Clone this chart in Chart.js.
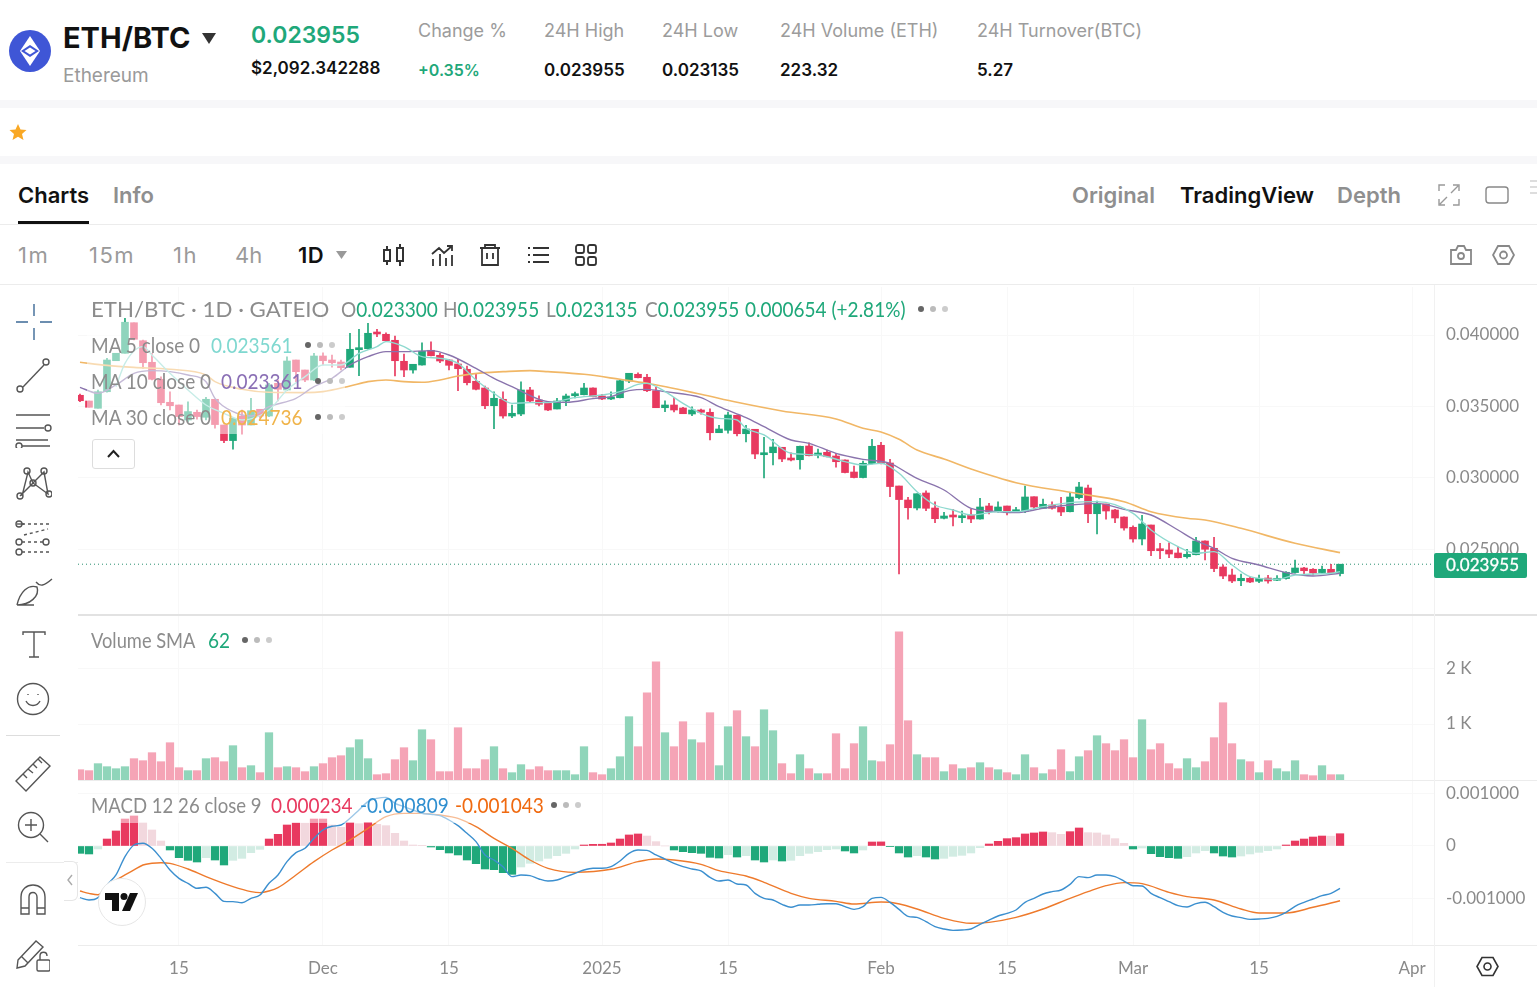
<!DOCTYPE html>
<html>
<head>
<meta charset="utf-8">
<title>ETH/BTC</title>
<script src="https://cdn.jsdelivr.net/npm/chart.js@4/dist/chart.umd.min.js"></script>
<style>
html, body { margin: 0; padding: 0; background: #fff; }
#page { position: relative; width: 1537px; height: 987px; overflow: hidden; font-family: Inter, sans-serif; }
canvas { position: absolute; left: 78px; }
.t { position: absolute; white-space: nowrap; line-height: 1; transform: translateY(-50%); }
.gray { color: #9a9a9a; }
.head { font-size: 18px; color: #9c9c9c; }
.val { font-size: 17px; font-weight: 600; color: #111; }
.tab { font-size: 22px; font-weight: 600; color: #8f8f8f; }
.tf { font-size: 22px; letter-spacing: 1.5px; color: #9a9a9a; }
.lg { font-family: Lato, sans-serif; font-size: 21px; color: #8c8c8c; transform-origin: left center; transform: translateY(calc(-50% - 1px)) scaleX(.905); }
.band { position: absolute; left: 0; width: 1537px; background: #f7f7f9; }
.rule { position: absolute; background: #ececec; }
.veil { position: absolute; background: rgba(255,255,255,.5); }
.dots { position: absolute; width: 30px; height: 6px; transform: translateY(-50%); }
.dots i { position: absolute; top: 0; width: 6px; height: 6px; border-radius: 50%; }
.dots i:nth-child(1) { left: 0; background: #666; }
.dots i:nth-child(2) { left: 12px; background: #bbb; }
.dots i:nth-child(3) { left: 24px; background: #ccc; }
svg { position: absolute; fill: none; stroke: #555; stroke-width: 1.4; }
</style>
</head>
<body>
<div id="page">
  <canvas id="priceChart" width="1459" height="328" style="top:287px"></canvas>
  <canvas id="volumeChart" width="1459" height="164" style="top:616px"></canvas>
  <canvas id="macdChart" width="1459" height="206" style="top:781px"></canvas>

  <div class="veil" style="left:87px;top:322px;width:258px;height:112px"></div>
  <div class="veil" style="left:87px;top:795px;width:458px;height:28px"></div>

  <!-- header -->
  <svg style="left:9px;top:30px;stroke:none" width="42" height="42" viewBox="0 0 42 42">
    <circle cx="21" cy="21" r="21" fill="#3f56d6"/>
    <path d="M21 6 L31 21 L21 36 L11 21 Z" fill="#fff"/>
    <path d="M21 15 L30 21 L21 27 L12 21 Z" fill="#3f56d6"/>
    <path d="M21 17.500 L26.500 21 L21 24.500 L15.500 21 Z" fill="#fff"/>
  </svg>
  <div class="t" style="left:63px;top:37px;font-size:29px;font-weight:700;color:#111">ETH/BTC</div>
  <svg style="left:202px;top:33px;stroke:none" width="14" height="11"><path d="M0 0 H14 L7 11 Z" fill="#333"/></svg>
  <div class="t gray" style="left:63px;top:75px;font-size:19px">Ethereum</div>
  <div class="t" style="left:251px;top:35px;font-size:23px;font-weight:600;color:#1fa87a">0.023955</div>
  <div class="t" style="left:251px;top:68px;font-size:17px;font-weight:600;color:#111">$2,092.342288</div>
  <div class="t head" style="left:418px;top:31px">Change %</div>
  <div class="t" style="left:418px;top:70px;font-size:16px;font-weight:600;color:#1fa87a">+0.35%</div>
  <div class="t head" style="left:544px;top:31px">24H High</div>
  <div class="t val" style="left:544px;top:70px">0.023955</div>
  <div class="t head" style="left:662px;top:31px">24H Low</div>
  <div class="t val" style="left:662px;top:70px">0.023135</div>
  <div class="t head" style="left:780px;top:31px">24H Volume (ETH)</div>
  <div class="t val" style="left:780px;top:70px">223.32</div>
  <div class="t head" style="left:977px;top:31px">24H Turnover(BTC)</div>
  <div class="t val" style="left:977px;top:70px">5.27</div>

  <div class="band" style="top:100px;height:8px"></div>
  <svg style="left:9px;top:123px;stroke:none" width="18" height="18" viewBox="0 0 18 18"><path d="M9 1 L11.500 6.500 L17.500 7 L13 11 L14.500 17 L9 13.800 L3.500 17 L5 11 L0.500 7 L6.500 6.500 Z" fill="#f9a825"/></svg>
  <div class="band" style="top:156px;height:8px"></div>

  <!-- tabs -->
  <div class="t" style="left:18px;top:195px;font-size:22px;font-weight:600;color:#111">Charts</div>
  <div style="position:absolute;left:18px;top:221px;width:71px;height:3px;background:#111"></div>
  <div class="t tab" style="left:113px;top:195px">Info</div>
  <div class="t tab" style="left:1072px;top:195px">Original</div>
  <div class="t tab" style="left:1180px;top:195px;color:#111">TradingView</div>
  <div class="t tab" style="left:1337px;top:195px">Depth</div>
  <svg style="left:1438px;top:184px;stroke:#999" width="22" height="22"><path d="M1 7 V1 H7 M15 1 H21 V7 M21 15 V21 H15 M7 21 H1 V15 M13 9 L20 2 M9 13 L2 20"/></svg>
  <svg style="left:1485px;top:185px;stroke:#888" width="24" height="20"><rect x="1" y="2" width="22" height="16" rx="3"/></svg>
  <div style="position:absolute;left:1530px;top:180px;width:7px;height:2px;background:#ddd;box-shadow:0 6px 0 #ddd,0 12px 0 #ddd"></div>
  <div class="rule" style="left:0;top:224px;width:1537px;height:1px"></div>

  <!-- timeframes -->
  <div class="t tf" style="left:18px;top:255px">1m</div>
  <div class="t tf" style="left:89px;top:255px">15m</div>
  <div class="t tf" style="left:173px;top:255px">1h</div>
  <div class="t tf" style="left:235px;top:255px;letter-spacing:0">4h</div>
  <div class="t" style="left:298px;top:255px;font-size:22px;font-weight:600;color:#111;letter-spacing:.5px">1D</div>
  <svg style="left:336px;top:251px;stroke:none" width="11" height="8"><path d="M0 0 H11 L5.500 8 Z" fill="#999"/></svg>
  <svg style="left:382px;top:244px;stroke:#333;stroke-width:2" width="24" height="22"><rect x="2" y="6" width="6" height="11"/><rect x="15" y="4" width="6" height="13"/><path d="M5 2 V6 M5 17 V21 M18 0 V4 M18 17 V22"/></svg>
  <svg style="left:431px;top:244px;stroke:#333;stroke-width:1.8" width="24" height="23"><path d="M1 10 L8 4 L13 9 L21 2 M16 2 H21 V7 M2 15 V22 M9 10 V22 M15 14 V22 M21 11 V22"/></svg>
  <svg style="left:479px;top:244px;stroke:#333;stroke-width:1.8" width="22" height="22"><path d="M1 4 H21 M6 4 V1 H16 V4 M3 4 V21 H19 V4 M8 9 V15 M14 9 V15"/></svg>
  <svg style="left:527px;top:245px;stroke:#333;stroke-width:1.8" width="22" height="20"><path d="M6 3 H22 M6 10 H22 M6 17 H22 M1 3 H3 M1 10 H3 M1 17 H3"/></svg>
  <svg style="left:575px;top:244px;stroke:#333;stroke-width:1.8" width="22" height="22"><rect x="1" y="1" width="8" height="8" rx="2"/><rect x="13" y="1" width="8" height="8" rx="2"/><rect x="1" y="13" width="8" height="8" rx="2"/><rect x="13" y="13" width="8" height="8" rx="2"/></svg>
  <svg style="left:1450px;top:245px;stroke:#888;stroke-width:1.8" width="22" height="20"><path d="M1 5 H6 L8 1 H14 L16 5 H21 V19 H1 Z"/><circle cx="11" cy="11" r="3"/></svg>
  <svg style="left:1492px;top:244px;stroke:#888;stroke-width:1.8" width="23" height="22"><path d="M6 2 H17 L22 11 L17 20 H6 L1 11 Z"/><circle cx="11.500" cy="11" r="3.500"/></svg>
  <div class="rule" style="left:0;top:284px;width:1537px;height:1px"></div>

  <!-- chart legends -->
  <div class="t lg" style="left:91px;top:309px;transform:translateY(calc(-50% - 1px)) scaleX(1.06)">ETH/BTC · 1D · GATEIO</div>
  <div class="t lg" style="left:341px;top:309px">O<span style="color:#1fa87a">0.023300</span></div>
  <div class="t lg" style="left:443px;top:309px">H<span style="color:#1fa87a">0.023955</span></div>
  <div class="t lg" style="left:546px;top:309px">L<span style="color:#1fa87a">0.023135</span></div>
  <div class="t lg" style="left:645px;top:309px">C<span style="color:#1fa87a">0.023955</span></div>
  <div class="t lg" style="left:745px;top:309px;color:#1fa87a">0.000654 (+2.81%)</div>
  <div class="dots" style="left:918px;top:309px"><i></i><i></i><i></i></div>

  <div class="t lg" style="left:91px;top:345px">MA 5 close 0</div>
  <div class="t lg" style="left:211px;top:345px;color:#7fd8d0">0.023561</div>
  <div class="dots" style="left:305px;top:345px"><i></i><i></i><i></i></div>
  <div class="t lg" style="left:91px;top:381px">MA 10 close 0</div>
  <div class="t lg" style="left:221px;top:381px;color:#8a6fb5">0.023361</div>
  <div class="dots" style="left:315px;top:381px"><i></i><i></i><i></i></div>
  <div class="t lg" style="left:91px;top:417px">MA 30 close 0</div>
  <div class="t lg" style="left:221px;top:417px;color:#f0b44b">0.024736</div>
  <div class="dots" style="left:315px;top:417px"><i></i><i></i><i></i></div>
  <div style="position:absolute;left:92px;top:439px;width:41px;height:28px;border:1px solid #ddd;border-radius:3px;background:#fff"></div>
  <svg style="left:106px;top:449px;stroke:#222;stroke-width:2" width="15" height="10"><path d="M2 8 L7.500 2 L13 8"/></svg>

  <div class="t lg" style="left:91px;top:640px;transform:translateY(calc(-50% - 1px)) scaleX(.87)">Volume SMA</div>
  <div class="t lg" style="left:208px;top:640px;color:#1fa87a">62</div>
  <div class="dots" style="left:242px;top:640px"><i></i><i></i><i></i></div>

  <div class="t lg" style="left:91px;top:805px;transform:translateY(calc(-50% - 1px)) scaleX(.885)">MACD 12 26 close 9</div>
  <div class="t lg" style="left:271px;top:805px;color:#e8395f">0.000234</div>
  <div class="t lg" style="left:360px;top:805px;color:#2f8fd0">-0.000809</div>
  <div class="t lg" style="left:455px;top:805px;color:#f06a10">-0.001043</div>
  <div class="dots" style="left:551px;top:805px"><i></i><i></i><i></i></div>

  <!-- pane borders -->
  <div class="rule" style="left:78px;top:614px;width:1459px;height:2px;background:#e2e2e2"></div>
  <div class="rule" style="left:78px;top:780px;width:1459px;height:1px"></div>
  <div class="rule" style="left:78px;top:945px;width:1459px;height:1px"></div>
  <div class="rule" style="left:1434px;top:285px;width:1px;height:702px;background:#f1f1f1"></div>

  <!-- last price tag -->
  <div style="position:absolute;left:1434px;top:553px;width:93px;height:25px;background:#1fa87a;border-radius:2px"></div>
  <div class="t" style="left:1446px;top:564px;font-family:Lato,sans-serif;color:#fff;font-size:17px;-webkit-text-stroke:.3px #fff">0.023955</div>

  <!-- drawing tools -->
  <svg style="left:16px;top:304px;stroke:#3d6a96" width="36" height="36"><path d="M0 18 H12 M24 18 H36 M18 0 V12 M18 24 V36"/></svg>
  <svg style="left:16px;top:358px" width="34" height="36"><circle cx="4" cy="31" r="3"/><circle cx="30" cy="4" r="3"/><path d="M7 29 L28 7"/></svg>
  <svg style="left:14px;top:412px" width="40" height="36"><path d="M2 3 H36 M2 16 H30 M2 28 H34 M8 34 H36"/><circle cx="34" cy="16" r="3"/><circle cx="5" cy="34" r="3"/></svg>
  <svg style="left:16px;top:466px" width="36" height="36"><path d="M6 30 L12 6 L17 17 L4 30 M17 17 L28 6 L32 28 L17 17"/><circle cx="4" cy="30" r="3"/><circle cx="11" cy="5" r="3"/><circle cx="17" cy="17" r="3"/><circle cx="28" cy="5" r="3"/><circle cx="33" cy="28" r="3"/></svg>
  <svg style="left:14px;top:520px" width="38" height="36"><path d="M8 4 H36 M8 22 H30 M8 32 H36 M10 15 L34 9" stroke-dasharray="3 3"/><path d="M10 4 H3"/><circle cx="5" cy="4" r="3"/><circle cx="5" cy="22" r="3"/><circle cx="32" cy="22" r="3"/><circle cx="5" cy="32" r="3"/></svg>
  <svg style="left:16px;top:578px" width="38" height="30"><path d="M1 27 C4 14 12 6 21 9 C24 18 14 27 1 27 H18 M20 4 C24 9 28 8 36 1"/></svg>
  <svg style="left:22px;top:630px" width="24" height="30"><path d="M1 5 V2 H23 V5 M12 2 V27 M7 27 H17"/></svg>
  <svg style="left:16px;top:682px" width="34" height="34"><circle cx="17" cy="17" r="15.500"/><path d="M10 19 C13 25 21 25 24 19"/><path d="M12 12 V13 M22 12 V13"/></svg>
  <div class="rule" style="left:6px;top:735px;width:54px;height:1px;background:#ddd"></div>
  <svg style="left:14px;top:755px" width="38" height="38"><path d="M2 26 L26 2 L36 11 L12 36 Z M9 19 L13 23 M14 14 L19 18 M19 9 L23 13 M24 4 L28 8"/></svg>
  <svg style="left:16px;top:810px" width="34" height="34"><circle cx="15" cy="15" r="12.500"/><path d="M15 9 V21 M9 15 H21 M24 24 L32 32"/></svg>
  <div class="rule" style="left:6px;top:862px;width:72px;height:1px"></div>
  <svg style="left:20px;top:884px" width="26" height="32"><path d="M1 30 V13 C1 -3 25 -3 25 13 V30 H17 V13 C17 7 9 7 9 13 V30 Z M1 24 H9 M17 24 H25"/></svg>
  <svg style="left:16px;top:936px" width="34" height="36"><path d="M2 24 L20 5 L27 11 L9 30 L1 32 Z M5 20 L12 27"/><rect x="21" y="24" width="13" height="11" rx="1.500"/><path d="M24 24 V20 C24 15 31 15 31 20"/></svg>

  <div style="position:absolute;left:64px;top:861px;width:13px;height:38px;border:1px solid #e6e6e6;border-left:none;border-radius:0 6px 6px 0;background:#fff"></div>
  <svg style="left:66px;top:874px;stroke:#aaa" width="8" height="12"><path d="M6 1 L2 6 L6 11"/></svg>

  <!-- logo badge -->
  <div style="position:absolute;left:98px;top:878px;width:46px;height:46px;border-radius:50%;background:#fff;border:1px solid #e6e6e6"></div>
  <svg style="left:105px;top:893px;stroke:none" width="34" height="18" viewBox="0 0 34 18"><path d="M0 0 H14 V18 H7 V7 H0 Z" fill="#111"/><circle cx="19" cy="3.500" r="3.500" fill="#111"/><path d="M25 0 H33 L25 18 H17 Z" fill="#111"/></svg>
  <svg style="left:1476px;top:956px;stroke:#333;stroke-width:1.6" width="23" height="21"><path d="M6 1.500 H17 L22 10.500 L17 19.500 H6 L1 10.500 Z"/><circle cx="11.500" cy="10.500" r="3.500"/></svg>
</div>

<script>
const opens = [
  35780,35380,34870,36030,38200,38720,40860,39600,38090,36900,
  35290,35100,34050,34590,34240,35500,33700,32610,34330,33700,
  34800,34330,36620,36150,38250,37550,36850,38530,38250,38110,
  37740,38970,39040,40210,40050,39630,38160,37550,37900,38930,
  38580,38250,37970,37600,36760,36290,35050,35500,34330,34470,
  36150,35450,35220,34820,35380,35750,35820,36290,35730,35520,
  35610,36780,37250,37040,36100,34910,35100,34890,34470,34750,
  34590,33160,33330,34380,33090,33400,31620,31760,32140,31390,
  31270,32230,31580,31790,31530,31250,30410,30020,31000,32280,
  31040,29430,28450,27890,28940,27890,27170,27310,27210,27400,
  27120,28030,27630,28030,27630,27660,28680,27870,28100,27940,
  27630,28610,29290,27490,28170,27750,27260,26540,25720,26700,
  24950,24950,24740,24480,24620,25580,25070,23760,23200,22800,
  22970,22760,22990,22830,22950,23370,23690,23600,23370,23600,
  23300];
const closes = [
  35400,34940,36030,38250,38720,40890,39700,38060,36900,35260,
  35050,34290,34640,34290,35500,33730,32610,34170,33700,34700,
  34330,36500,36200,38180,37430,36850,38530,38200,38060,37710,
  39000,39070,40120,40070,39600,38200,37550,37950,38860,38550,
  38180,37880,37640,36660,36200,35050,35570,34330,34520,36150,
  35380,35150,34750,35380,35730,35890,36290,35680,35520,35610,
  36800,37320,37010,36100,34910,35100,34750,34490,34750,34590,
  33160,33420,34400,33090,33420,31670,31720,32160,31320,31250,
  32210,31550,31740,31480,31130,30370,30020,31020,32210,31000,
  29390,28480,27910,28890,27870,27140,27330,27260,27330,27120,
  27960,27630,27960,27560,27730,28660,27960,28150,27870,27610,
  28660,29360,27490,28220,27680,27190,26490,25720,26770,24900,
  24900,24670,24410,24650,25580,25000,23650,23130,22780,22970,
  22710,22970,22780,22950,23390,23690,23500,23340,23600,23300,
  23955];
const highs = [
  35870,35380,36150,38370,38720,41170,40860,39650,38720,37080,
  36030,35100,35330,34750,35640,35500,33700,34170,34750,35570,
  34800,36620,36850,38480,38250,37550,38720,38760,38600,38250,
  40120,40400,40820,40400,40160,39930,38670,37950,39460,39530,
  38720,38300,38300,37830,37320,36430,36030,36030,35100,36730,
  36340,35750,35330,35570,35870,36010,36620,36310,35850,36030,
  36850,37320,37360,37250,36340,35400,35640,34940,34980,34820,
  34840,33680,34610,34400,33680,33400,32840,32700,32140,31760,
  32230,32460,32020,31950,31720,31270,30830,31180,32700,32490,
  31300,29430,28640,28890,29100,28330,27590,27800,27680,27800,
  28570,28220,28330,28030,27940,29430,28680,28520,28330,28640,
  28990,29690,29500,28380,28170,27800,27280,26650,27380,26700,
  25420,25460,25180,25000,25840,25600,25840,23920,23620,23270,
  23040,23200,23180,23160,23440,24250,23740,23650,23830,23950,
  23955];
const lows = [
  35330,34940,34870,35990,38200,38720,39650,37670,36850,35100,
  34750,33700,33940,34100,34050,33470,32470,32000,33070,33700,
  34170,34290,35380,36100,36730,36730,36800,37900,37740,37550,
  37740,37150,39000,39880,39560,37130,37080,37320,37880,38530,
  38060,37550,36100,36500,36150,34850,33450,34170,34210,34350,
  35290,35030,34700,34820,35050,35590,35800,35660,35470,35470,
  35590,36660,36990,36030,34910,34630,34610,34490,34350,34450,
  32650,33160,33120,32930,32510,31340,29990,30900,31130,31180,
  30600,31530,31390,31460,30740,30340,29990,29990,30970,30970,
  28690,23270,27100,27750,27700,26860,27120,26630,26860,26860,
  27100,27470,27590,27400,27560,27560,27800,27840,27800,27350,
  27610,28520,26860,26070,27100,26860,26330,25490,25300,24550,
  24340,24410,24390,24370,24600,24250,23440,22950,22670,22460,
  22670,22670,22620,22800,22900,23320,23180,23200,23320,23250,
  23135];

const volumes = [
  184,167,292,238,202,238,381,345,488,327,
  666,220,167,167,381,399,327,613,220,256,
  131,845,220,238,220,149,238,292,399,434,
  577,720,381,95,113,363,577,345,898,720,
  149,149,934,202,202,363,595,202,131,274,
  184,238,167,167,167,95,595,131,95,202,
  416,1131,595,1559,2112,845,595,1041,720,666,
  1202,256,952,1238,774,595,1255,881,292,113,
  452,202,113,113,827,202,649,952,345,327,
  631,2648,1059,452,399,399,149,274,202,220,
  309,220,184,131,95,452,220,113,184,541,
  149,416,524,791,649,524,720,399,1077,541,
  649,292,202,381,220,327,756,1380,649,363,
  327,131,345,202,149,345,95,77,256,95,
  95];

// MACD values in units of 0.000001
const macdHist = [
  -140,-152,-57,133,286,514,572,445,305,95,
  -76,-222,-273,-305,-222,-267,-362,-273,-235,-127,
  -64,133,222,400,438,436,514,514,400,356,
  445,425,451,413,387,241,95,19,6,-19,
  -70,-133,-171,-267,-337,-438,-451,-508,-540,-400,
  -330,-286,-235,-184,-140,-57,19,32,33,57,
  133,210,229,190,83,0,-76,-108,-127,-140,
  -216,-229,-165,-210,-184,-267,-305,-267,-286,-273,
  -184,-140,-108,-70,-57,-95,-133,-76,76,78,
  -13,-133,-210,-184,-210,-248,-235,-197,-178,-133,
  -32,38,89,140,159,229,248,267,254,222,
  273,343,254,248,210,140,51,-57,-38,-146,
  -203,-222,-235,-203,-133,-89,-133,-191,-210,-191,
  -152,-121,-89,-57,19,95,133,171,190,187,
  234];
const macdLine = [
  -984,-1029,-984,-743,-552,-203,19,51,-44,-235,
  -457,-616,-711,-806,-787,-902,-1054,-1060,-1080,-997,
  -933,-711,-552,-298,-127,-44,146,305,375,400,
  527,686,845,908,927,813,749,686,622,603,
  578,495,387,241,83,-171,-267,-394,-584,-552,
  -565,-629,-667,-648,-584,-521,-457,-425,-425,-394,
  -286,-140,-76,-83,-171,-248,-330,-394,-438,-476,
  -597,-667,-648,-724,-743,-902,-997,-1029,-1111,-1168,
  -1124,-1124,-1111,-1099,-1099,-1156,-1207,-1156,-997,-978,
  -1073,-1207,-1340,-1359,-1441,-1537,-1581,-1607,-1600,-1581,
  -1492,-1410,-1334,-1283,-1219,-1073,-997,-914,-870,-838,
  -730,-584,-603,-552,-552,-584,-667,-756,-762,-902,
  -984,-1060,-1137,-1162,-1099,-1073,-1156,-1264,-1334,-1365,
  -1397,-1391,-1378,-1340,-1264,-1149,-1073,-1010,-946,-902,
  -809];

// signal and moving averages are smooth: read at knots (bar index, value)
const signalIdx = [0,1,2,3,4,5,6,7,8,9,10,12,14,17,19,20,21,22,24,26,28,30,32,34,36,38,40,42,44,46,48,50,52,55,59,62,64,66,69,71,74,76,79,81,84,86,89,90,93,96,99,101,104,107,110,112,114,116,118,121,123,126,129,131,134,137,140];
const signalVals = [-857,-902,-930,-775,-648,-552,-457,-362,-330,-318,-330,-438,-584,-775,-870,-889,-857,-794,-552,-298,-76,114,337,559,622,622,590,527,368,146,-44,-267,-425,-502,-444,-298,-248,-267,-349,-470,-572,-692,-902,-997,-1054,-1105,-1067,-1073,-1200,-1378,-1473,-1454,-1359,-1200,-997,-870,-756,-698,-718,-883,-965,-1029,-1200,-1276,-1276,-1168,-1043];

const ma5Idx = [4,5,7,8,10,12,14,16,18,21,23,25,27,29,31,33,34,36,38,40,42,44,46,48,50,52,55,58,60,62,63,65,67,69,71,73,74,76,79,82,85,87,89,91,93,95,97,99,102,104,107,110,113,117,119,122,124,126,128,130,133,135,139,140];
const ma5Vals = [36384,38017,39184,38601,37318,36151,35101,34518,34051,34751,36151,37084,37901,37901,38717,39184,39534,39184,38484,38367,38017,36851,35918,35217,35264,35264,35614,35800,36034,36547,36617,36034,35217,34517,34167,34050,33467,33001,31718,31601,31134,30901,31018,30318,29034,28100,27751,27401,27634,27634,27984,28264,28334,27517,26351,25184,24717,24834,23901,23085,22898,23201,23318,23434];
const ma10Idx = [0,2,4,6,8,10,12,14,15,17,19,21,24,26,28,30,32,34,36,39,41,44,46,48,52,54,57,59,61,63,65,69,71,74,76,79,81,84,87,90,92,93,96,99,102,104,107,110,113,116,119,122,124,126,128,131,134,137,140];
const ma10Vals = [36338,35918,36501,37317,37504,37434,37201,36734,35568,34635,34331,34985,35568,36384,36967,37901,38484,38834,38834,38904,38601,37667,36967,36384,35334,35287,35544,35684,36104,36197,36034,35614,34984,34214,33584,32651,32418,31718,31298,31018,30318,29967,29150,27867,27634,27564,27867,28100,28217,27797,27401,26351,25604,25068,24368,23901,23365,23131,23318];
const ma30Idx = [0,3,6,10,14,15,18,21,25,27,30,32,34,36,38,40,42,45,47,50,52,56,60,63,69,73,78,84,87,89,91,93,96,99,104,110,116,119,123,125,129,135,140];
const ma30Vals = [38087,37877,37737,37597,37201,36734,36198,35988,35964,36034,36431,36734,36851,36734,36688,36851,37131,37364,37433,37503,37433,37247,36897,36617,35847,35287,34681,34121,33467,33211,32698,31950,31320,30620,29664,28987,28334,27634,27167,27050,26467,25418,24764];

const lastPrice = 23955;
const priceTicks = [40000, 35000, 30000, 25000];
const volumeTicks = [1000, 2000];
const macdTicks = [1000, 0, -1000];
const timeTickIdx = [11, 27, 41, 58, 72, 89, 103, 117, 131, 148];
const timeTickLabels = ["15", "Dec", "15", "2025", "15", "Feb", "15", "Mar", "15", "Apr"];

const RED = "#e8395f", GREEN = "#1fa87a";
const VOL_RED = "#f5a4b6", VOL_GREEN = "#90d5ba";
const RED_SOFT = "#f2d8de", GREEN_SOFT = "#d2ece3";
const GRID = "#f8f8f8", AXIS_TEXT = "#8a8a8a";
const AXIS_FONT = { family: "Lato, sans-serif", size: 17 };
const X_MIN = -0.22, X_MAX = 150.44;

const pts = (idx, vals) => idx.map((x, i) => ({ x, y: vals[i] }));
const isUp = i => closes[i] >= opens[i];

function xAxis(showLabels) {
    return {
        type: "linear",
        min: X_MIN,
        max: X_MAX,
        offset: false,
        grid: { color: GRID, drawTicks: false, offset: false },
        border: { display: false },
        afterBuildTicks: axis => { axis.ticks = timeTickIdx.map(value => ({ value })); },
        afterFit: axis => { axis.paddingLeft = 0; axis.paddingRight = 0; if (showLabels) axis.height = 42; },
        ticks: {
            display: showLabels,
            autoSkip: false,
            maxRotation: 0,
            padding: 13,
            color: AXIS_TEXT,
            font: AXIS_FONT,
            callback: value => timeTickLabels[timeTickIdx.indexOf(value)],
        },
    };
}

function yAxis(min, max, tickValues, format) {
    return {
        position: "right",
        min,
        max,
        grid: { color: GRID, drawTicks: false },
        border: { display: false },
        afterBuildTicks: axis => { axis.ticks = tickValues.map(value => ({ value })); },
        afterFit: axis => { axis.width = 103; axis.paddingTop = 0; axis.paddingBottom = 0; },
        ticks: { padding: 12, color: AXIS_TEXT, font: AXIS_FONT, callback: format },
    };
}

const baseOptions = {
    responsive: false,
    animation: false,
    layout: { padding: 0 },
    plugins: { legend: { display: false }, tooltip: { enabled: false } },
    events: [],
};

function lineSet(data, color, width, order) {
    return { type: "line", data, borderColor: color, borderWidth: width, pointRadius: 0, cubicInterpolationMode: "monotone", order };
}

// price pane: a candle is a thin floating bar (wick) under a wide floating bar (body)
new Chart(document.getElementById("priceChart"), {
    data: {
        datasets: [
            { type: "line", data: [{ x: X_MIN, y: lastPrice }, { x: X_MAX, y: lastPrice }], borderColor: "#2a8f70", borderWidth: 1, borderDash: [1, 3], pointRadius: 0, order: 5 },
            { type: "bar", data: highs.map((h, i) => ({ x: i, y: [lows[i], h] })), backgroundColor: highs.map((_, i) => isUp(i) ? GREEN : RED), barThickness: 1, grouped: false, order: 4 },
            { type: "bar", data: opens.map((o, i) => ({ x: i, y: [o, closes[i]] })), backgroundColor: opens.map((_, i) => isUp(i) ? GREEN : RED), barThickness: 7, minBarLength: 2, grouped: false, order: 3 },
            lineSet(pts(ma30Idx, ma30Vals), "#f1b766", 1.6, 2),
            lineSet(pts(ma10Idx, ma10Vals), "#8a74ad", 1.4, 1),
            lineSet(pts(ma5Idx, ma5Vals), "#8ed9cf", 1.4, 0),
        ],
    },
    options: {
        ...baseOptions,
        scales: { x: xAxis(false), y: yAxis(20400, 43360, priceTicks, v => (v / 1e6).toFixed(6)) },
    },
});

new Chart(document.getElementById("volumeChart"), {
    type: "bar",
    data: {
        datasets: [{
            data: volumes.map((y, x) => ({ x, y })),
            backgroundColor: volumes.map((_, i) => isUp(i) ? VOL_GREEN : VOL_RED),
            barThickness: 7.6,
        }],
    },
    options: {
        ...baseOptions,
        scales: { x: xAxis(false), y: yAxis(0, 2929, volumeTicks, v => (v / 1000) + " K") },
    },
});

// histogram colour follows the sign and whether the bar grew or shrank
function histColor(v, i) {
    const prev = i > 0 ? macdHist[i - 1] : 0;
    if (v >= 0) return v >= prev ? RED : RED_SOFT;
    return v <= prev ? GREEN : GREEN_SOFT;
}

new Chart(document.getElementById("macdChart"), {
    data: {
        datasets: [
            { type: "bar", data: macdHist.map((y, x) => ({ x, y })), backgroundColor: macdHist.map(histColor), barThickness: 7.6, order: 3 },
            lineSet(pts(signalIdx, signalVals), "#ee7a2c", 1.4, 2),
            lineSet(macdLine.map((y, x) => ({ x, y })), "#3b8fcf", 1.4, 1),
        ],
    },
    options: {
        ...baseOptions,
        scales: {
            x: xAxis(true),
            y: yAxis(-1886, 1238, macdTicks, v => v === 0 ? "0" : (v / 1e6).toFixed(6)),
        },
    },
});
</script>
</body>
</html>
